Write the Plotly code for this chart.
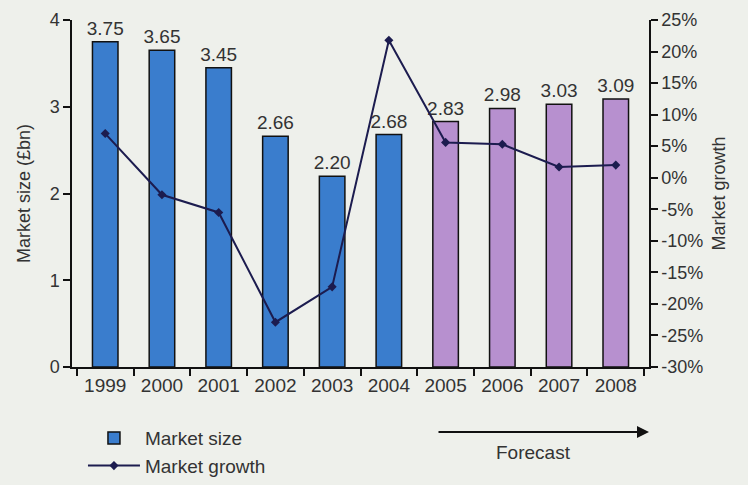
import plotly.graph_objects as go

years = ["1999", "2000", "2001", "2002", "2003", "2004", "2005", "2006", "2007", "2008"]
market_size = [3.75, 3.65, 3.45, 2.66, 2.20, 2.68, 2.83, 2.98, 3.03, 3.09]
market_growth = [7.0, -2.7, -5.5, -22.9, -17.3, 21.8, 5.6, 5.3, 1.7, 2.0]
forecast = [False, False, False, False, False, False, True, True, True, True]
growth_ticks = [-30, -25, -20, -15, -10, -5, 0, 5, 10, 15, 20, 25]
growth_tick_labels = ["%d%%" % v for v in growth_ticks]
size_labels = ["%.2f" % v for v in market_size]

BLUE = "#3a7dcd"
PURPLE = "#b790cf"
BG = "#eef0eb"
FONT = "Liberation Sans, Arial, sans-serif"

bar_colors = [PURPLE if f else BLUE for f in forecast]

fig = go.Figure()
fig.add_trace(go.Bar(
    x=years, y=market_size, name="Market size",
    marker=dict(color=bar_colors, line=dict(color="#111111", width=1.5)),
    text=size_labels, textposition="outside", cliponaxis=False,
    constraintext="none",
    textfont=dict(size=19, color="#333333", family=FONT),
))
fig.add_trace(go.Scatter(
    x=years, y=market_growth, name="Market growth", yaxis="y2",
    mode="lines+markers",
    line=dict(color="#1c1c4f", width=2),
    marker=dict(symbol="diamond", size=7, color="#1c1c4f"),
))

fig.update_layout(
    width=748, height=485,
    margin=dict(l=72, r=99, t=20, b=118, autoexpand=False),
    paper_bgcolor=BG, plot_bgcolor=BG,
    font=dict(family=FONT, size=18, color="#333333"),
    bargap=0.55,
    showlegend=True,
    legend=dict(x=0.019, y=-0.15, xanchor="left", yanchor="top",
                bgcolor="rgba(0,0,0,0)", font=dict(size=19, color="#333333"),
                tracegroupgap=2, itemwidth=52),
    xaxis=dict(
        showline=True, linecolor="#111111", linewidth=1.5,
        ticks="outside", ticklen=7, tickcolor="#111111", tickwidth=1.5,
        tickson="boundaries", showgrid=False,
        tickfont=dict(size=19, color="#333333"),
    ),
    yaxis=dict(
        range=[0, 4], dtick=1, showgrid=False, zeroline=False,
        showline=True, linecolor="#111111", linewidth=1.5,
        ticks="outside", ticklen=7, tickcolor="#111111", tickwidth=1.5,
        title=dict(text="Market size (£bn)", font=dict(size=18), standoff=14),
        tickfont=dict(size=18),
    ),
    yaxis2=dict(
        range=[-30, 25], tickvals=growth_ticks, ticktext=growth_tick_labels,
        overlaying="y", side="right",
        showgrid=False, zeroline=False,
        showline=True, linecolor="#111111", linewidth=1.5,
        ticks="outside", ticklen=7, tickcolor="#111111", tickwidth=1.5,
        title=dict(text="Market growth", font=dict(size=18), standoff=10),
        tickfont=dict(size=18),
    ),
    annotations=[
        dict(xref="paper", yref="paper", x=1.0, y=-0.187, ax=-212, ay=0,
             axref="pixel", ayref="pixel", text="", showarrow=True,
             arrowhead=2, arrowsize=1.2, arrowwidth=2, arrowcolor="#111111"),
        dict(xref="paper", yref="paper", x=0.80, y=-0.245, text="Forecast",
             xanchor="center", yanchor="middle",
             showarrow=False, font=dict(size=19, color="#333333")),
    ],
)

fig.write_html("out.html")
